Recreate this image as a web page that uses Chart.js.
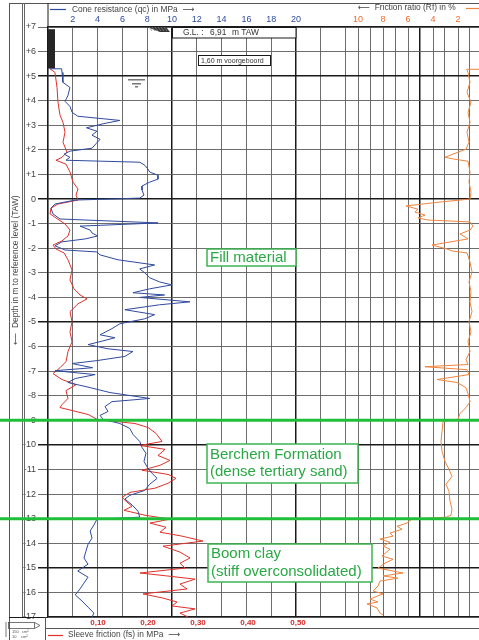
<!DOCTYPE html>
<html>
<head>
<meta charset="utf-8">
<script src="https://cdn.jsdelivr.net/npm/chart.js@4.4.1/dist/chart.umd.min.js"></script>
<style>
html, body { margin: 0; padding: 0; background: #fff; }
#wrap { width: 479px; height: 640px; position: relative; }
</style>
</head>
<body>
<div id="wrap"><canvas id="chart"></canvas></div>
<script>
// [depth in m TAW, cone resistance qc in MPa]
const qcProfile = [
	[5.3,0.15],[5.3,1.1],[5.15,1.13],[4.75,1.2],[4.54,1.77],[4.2,1.6],[3.98,1.37],[3.77,1.77],[3.53,1.94],
	[3.37,2.4],[3.2,5.8],[3.08,4.6],[2.9,3.1],[2.76,3.95],[2.6,3.55],[2.43,4.2],[2.27,3.9],[2.07,3.55],
	[1.95,1.77],[1.83,1.3],[1.7,1.77],[1.58,1.45],[1.5,7.4],[1.38,7.8],[1.22,8.06],[1.1,8.2],[0.97,8.87],
	[0.81,8.87],[0.69,8.2],[0.53,7.58],[0.37,7.58],[0.16,7.74],[0.04,7.4],[-0.04,2.2],[-0.2,0.56],
	[-0.37,0.24],[-0.6,0.4],[-0.81,0.97],[-0.97,8.87],[-1.1,2.58],[-1.26,3.4],[-1.38,3.55],[-1.5,4.0],
	[-1.62,3.0],[-1.74,1.13],[-1.9,0.56],[-2.07,1.37],[-2.15,3.95],[-2.27,4.2],[-2.47,5.65],[-2.68,8.6],
	[-2.84,7.4],[-3.0,7.8],[-3.2,8.2],[-3.37,9.0],[-3.49,10.0],[-3.65,8.2],[-3.81,6.85],[-3.9,9.4],
	[-4.0,7.4],[-4.18,11.45],[-4.3,9.0],[-4.5,6.2],[-4.7,8.6],[-4.87,7.8],[-5.07,5.8],[-5.27,5.16],
	[-5.52,4.2],[-5.64,5.4],[-5.8,4.2],[-5.92,3.23],[-6.09,4.84],[-6.2,6.85],[-6.4,6.2],[-6.57,3.95],
	[-6.69,1.94],[-6.86,3.6],[-6.98,0.56],[-7.14,3.8],[-7.3,2.2],[-7.46,1.6],[-7.67,3.4],[-7.87,5.0],
	[-8.11,8.2],[-8.24,5.16],[-8.44,4.6],[-8.64,4.84],[-8.8,4.2],[-8.96,4.44],[-9.13,5.8],[-9.33,6.6],
	[-9.57,6.85],[-9.86,7.4],[-10.1,7.58],[-10.34,7.9],[-10.67,7.74],[-10.95,8.06],[-11.16,8.4],
	[-11.36,8.8],[-11.6,8.2],[-11.85,7.8],[-12.05,6.6],[-12.2,6.2],[-12.45,6.8],[-12.7,7.26],[-12.94,7.4],
	[-13.02,3.95],[-13.26,3.7],[-13.5,3.4],[-13.79,3.55],[-14.04,3.23],[-14.32,3.06],[-14.6,2.9],
	[-14.85,3.23],[-15.13,2.4],[-15.38,3.23],[-15.62,2.9],[-15.86,2.58],[-16.1,2.2],[-16.35,2.74],
	[-16.6,3.23],[-16.84,3.7],[-17.0,3.55]
];

// [depth in m TAW, sleeve friction fs in MPa]
const fsProfile = [
	[5.3,0.004],[5.15,0.014],[4.54,0.018],[3.94,0.02],[3.41,0.024],[3.12,0.03],[2.72,0.034],[2.31,0.03],
	[1.91,0.038],[1.7,0.028],[1.58,0.016],[1.42,0.036],[1.1,0.044],[0.69,0.05],[0.41,0.06],[0.16,0.056],
	[-0.04,0.06],[-0.2,0.02],[-0.37,0.006],[-0.6,0.004],[-0.77,0.016],[-1.01,0.034],[-1.26,0.044],
	[-1.5,0.04],[-1.7,0.028],[-1.87,0.01],[-2.03,0.016],[-2.19,0.032],[-2.47,0.04],[-2.88,0.048],
	[-3.29,0.044],[-3.65,0.052],[-3.9,0.064],[-4.06,0.078],[-4.26,0.06],[-4.58,0.044],[-4.99,0.048],
	[-5.4,0.044],[-5.8,0.048],[-6.2,0.04],[-6.61,0.036],[-6.86,0.024],[-7.1,0.01],[-7.34,0.028],
	[-7.55,0.056],[-7.79,0.036],[-8.11,0.04],[-8.36,0.028],[-8.48,0.024],[-8.6,0.048],[-8.76,0.08],
	[-8.96,0.098],[-9.13,0.174],[-9.29,0.2],[-9.53,0.216],[-9.86,0.228],[-10.02,0.184],[-10.18,0.234],
	[-10.43,0.22],[-10.63,0.244],[-10.83,0.224],[-11.03,0.188],[-11.2,0.24],[-11.36,0.256],[-11.56,0.24],
	[-11.76,0.214],[-11.93,0.164],[-12.13,0.148],[-12.29,0.156],[-12.5,0.168],[-12.66,0.152],
	[-12.86,0.194],[-13.02,0.244],[-13.18,0.204],[-13.35,0.236],[-13.55,0.224],[-13.71,0.268],
	[-13.91,0.31],[-14.12,0.23],[-14.36,0.264],[-14.6,0.284],[-14.81,0.264],[-15.01,0.274],[-15.21,0.184],
	[-15.33,0.238],[-15.46,0.294],[-15.66,0.264],[-15.86,0.278],[-16.06,0.19],[-16.23,0.23],
	[-16.39,0.258],[-16.55,0.248],[-16.67,0.294],[-16.84,0.264],[-17.0,0.28]
];

// [depth in m TAW, friction ratio Rf in %]
const rfProfile = [
	[5.28,0.3],[5.28,1.3],[5.15,1.2],[4.75,1.04],[4.34,1.28],[3.94,0.96],[3.53,1.2],[3.12,1.04],[2.72,1.28],
	[2.31,1.12],[2.03,1.36],[1.91,2.0],[1.7,3.04],[1.62,2.24],[1.54,1.2],[1.1,1.04],[0.69,1.12],[0.28,0.96],
	[0.0,1.04],[-0.12,3.44],[-0.28,6.16],[-0.41,5.2],[-0.53,5.44],[-0.65,4.64],[-0.77,5.2],[-0.85,4.4],
	[-0.93,1.04],[-1.1,0.8],[-1.26,1.04],[-1.42,1.84],[-1.62,1.2],[-1.87,4.08],[-2.03,2.88],[-2.11,2.48],
	[-2.19,1.28],[-2.56,1.04],[-2.96,0.88],[-3.37,1.12],[-3.77,0.96],[-4.18,1.04],[-4.58,0.88],
	[-4.99,1.12],[-5.4,0.96],[-5.8,1.2],[-6.2,1.04],[-6.53,1.36],[-6.73,1.2],[-6.82,4.64],[-6.94,1.28],
	[-7.14,1.12],[-7.34,3.68],[-7.46,2.08],[-7.67,1.36],[-7.91,1.2],[-8.24,1.04],[-8.48,1.36],[-8.72,1.84],
	[-8.96,2.0],[-9.05,3.2],[-9.45,3.28],[-9.86,3.36],[-10.26,3.28],[-10.67,3.04],[-11.0,2.72],
	[-11.28,2.48],[-11.6,2.96],[-11.89,2.72],[-12.29,2.64],[-12.62,2.48],[-12.86,2.56],[-12.94,2.96],
	[-13.02,5.68],[-13.18,6.08],[-13.31,6.88],[-13.43,6.48],[-13.59,7.44],[-13.71,7.2],[-13.83,8.24],
	[-13.96,7.44],[-14.12,8.0],[-14.24,7.44],[-14.52,8.08],[-14.65,7.2],[-14.81,7.84],[-15.01,8.4],
	[-15.21,6.4],[-15.33,8.0],[-15.42,6.8],[-15.54,8.24],[-15.74,8.4],[-15.94,8.8],[-16.06,8.0],
	[-16.27,9.04],[-16.39,8.4],[-16.47,9.28],[-16.63,8.48],[-16.84,8.24],[-16.92,8.0]
];

const qcGridValues = [0,2,4,6,8,10,12,14,16,18,20,22,24,26,28,30,32,34];
const qcTickLabels = [2,4,6,8,10,12,14,16,18,20];
const rfTickLabels = [2,4,6,8,10];
const fsTickLabels = [0.10,0.20,0.30,0.40,0.50];
const depthTicks = [7,6,5,4,3,2,1,0,-1,-2,-3,-4,-5,-6,-7,-8,-9,-10,-11,-12,-13,-14,-15,-16,-17];

const layerBounds = [-9, -13];
const groundLevel = 6.91;
const predrillBottom = 5.31;
const waterLevel = 4.85;

const blue = '#2f4a9e';
const red = '#e0302a';
const orange = '#f0843c';
const green = '#25b83c';
const thin = '#5c5c5c';
const heavy = '#1a1a1a';
const FONT = '"Liberation Sans", Arial, "DejaVu Sans", sans-serif';

function toPoints(profile) {
	return profile.map(p => ({x: p[1], y: p[0]}));
}

function line(ctx, x1, y1, x2, y2, color, width) {
	ctx.beginPath();
	ctx.strokeStyle = color;
	ctx.lineWidth = width;
	ctx.moveTo(x1, y1);
	ctx.lineTo(x2, y2);
	ctx.stroke();
}

function labelBox(ctx, x, y, w, h, lines, lineYs) {
	ctx.fillStyle = '#fff';
	ctx.fillRect(x, y, w, h);
	ctx.strokeStyle = '#3cb552';
	ctx.lineWidth = 1.5;
	ctx.strokeRect(x, y, w, h);
	ctx.fillStyle = '#2aa845';
	ctx.font = '15px ' + FONT;
	ctx.textAlign = 'left';
	ctx.textBaseline = 'middle';
	lines.forEach((t, i) => ctx.fillText(t, x + 3, lineYs[i]));
}

const overlay = {
	id: 'overlay',
	beforeDatasetsDraw(chart) {
		const ctx = chart.ctx;
		const y = chart.scales.y;
		const a = chart.chartArea;
		ctx.save();
		// ground level box
		ctx.fillStyle = '#fff';
		ctx.fillRect(172, a.top, 124, 11);
		ctx.strokeStyle = heavy;
		ctx.lineWidth = 1;
		ctx.strokeRect(172.5, a.top + 0.5, 123.5, 10.5);
		ctx.fillStyle = '#333';
		ctx.font = '8.4px ' + FONT;
		ctx.textBaseline = 'middle';
		ctx.fillText('G.L. :', 183, a.top + 6);
		ctx.fillText('6,91', 210, a.top + 6);
		ctx.fillText('m TAW', 232, a.top + 6);
		// predrilled box
		ctx.fillStyle = '#fff';
		ctx.fillRect(198, 55, 73, 10);
		ctx.strokeRect(198.5, 55.5, 72, 10);
		ctx.fillStyle = '#333';
		ctx.font = '7px ' + FONT;
		ctx.fillText('1,60 m voorgeboord', 201, 61);
		// predrilled bar
		const yg = y.getPixelForValue(groundLevel);
		const yp = y.getPixelForValue(predrillBottom);
		ctx.fillStyle = '#262626';
		ctx.fillRect(a.left, yg, 7, yp - yg);
		// ground surface hatch
		ctx.fillStyle = '#333';
		ctx.beginPath();
		ctx.moveTo(147, a.top);
		ctx.lineTo(166, a.top);
		ctx.lineTo(170, a.top + 5);
		ctx.lineTo(160, a.top + 5);
		ctx.closePath();
		ctx.fill();
		for (let i = 0; i < 6; i++) {
			line(ctx, 149 + i * 3, a.top, 152 + i * 3, a.top + 4, '#888', 0.8);
		}
		// water table
		const yw = y.getPixelForValue(waterLevel);
		line(ctx, 128, yw, 145, yw, '#333', 1);
		line(ctx, 132, yw + 4, 141, yw + 4, '#333', 1);
		line(ctx, 135, yw + 7, 138, yw + 7, '#333', 1);
		ctx.restore();
	},
	afterDraw(chart) {
		const ctx = chart.ctx;
		const a = chart.chartArea;
		const y = chart.scales.y;
		const rf = chart.scales.xRf;
		ctx.save();
		// frame lines
		line(ctx, 9, 3.5, 479, 3.5, '#555', 1);
		line(ctx, 9.5, 3, 9.5, 640, '#555', 1);
		line(ctx, 22.5, 3, 22.5, a.bottom, '#666', 1);
		line(ctx, 24.5, 3, 24.5, a.bottom, '#666', 1);
		line(ctx, a.left, 3, a.left, a.top, heavy, 1);
		line(ctx, 9, a.bottom + 0.5, a.left, a.bottom + 0.5, heavy, 1);
		line(ctx, 45.5, a.bottom, 45.5, 640, '#555', 1);
		line(ctx, 45, 628.5, 479, 628.5, '#555', 1);
		// cone icon
		ctx.strokeStyle = '#555';
		ctx.lineWidth = 0.8;
		ctx.strokeRect(8.5, 622.5, 26, 6);
		ctx.beginPath();
		ctx.moveTo(34.5, 622.5);
		ctx.lineTo(40, 625.5);
		ctx.lineTo(34.5, 628.5);
		ctx.stroke();
		line(ctx, 6, 622, 6, 637, '#555', 0.8);
		ctx.fillStyle = '#555';
		ctx.font = '4px ' + FONT;
		ctx.fillText('150   cm²', 12, 633);
		ctx.fillText('10    cm²', 12, 638);

		// friction ratio tick labels
		ctx.font = '9px ' + FONT;
		ctx.fillStyle = '#f06a28';
		ctx.textAlign = 'center';
		ctx.textBaseline = 'middle';
		rfTickLabels.forEach(v => ctx.fillText(String(v), rf.getPixelForValue(v), 19.5));

		// axis titles
		ctx.font = '8.4px ' + FONT;
		ctx.textBaseline = 'middle';
		ctx.textAlign = 'left';
		line(ctx, 50, 9.5, 66, 9.5, blue, 1.2);
		ctx.fillStyle = '#444';
		ctx.fillText('Cone resistance (qc) in MPa  \u27F6', 72, 10);
		ctx.fillText('\u27F5  Friction ratio (Rf) in %', 358, 8);
		line(ctx, 466, 8.5, 479, 8.5, orange, 1.2);
		line(ctx, 48, 635.5, 63, 635.5, red, 1.2);
		ctx.fillText('Sleeve friction (fs) in MPa  \u27F6', 68, 635);
		ctx.save();
		ctx.translate(16, 270);
		ctx.rotate(-Math.PI / 2);
		ctx.textAlign = 'center';
		ctx.fillText('\u27F5  Depth in m to reference level (TAW)', 0, 0);
		ctx.restore();

		// layer boundaries
		layerBounds.forEach(d => {
			const py = y.getPixelForValue(d);
			line(ctx, 0, py, 479, py, '#1fbf3a', 3);
		});

		// layer labels
		labelBox(ctx, 207, 249, 89, 17, ['Fill material'], [258]);
		labelBox(ctx, 207, 444, 151, 39, ['Berchem Formation', '(dense tertiary sand)'], [455, 472]);
		labelBox(ctx, 208, 544, 164, 38, ['Boom clay', '(stiff overconsolidated)'], [554, 572]);
		ctx.restore();
	}
};

const chart = new Chart(document.getElementById('chart'), {
	type: 'scatter',
	data: {
		datasets: [
			{label: 'qc', data: toPoints(qcProfile), xAxisID: 'xQc', yAxisID: 'y', borderColor: blue, showLine: true},
			{label: 'fs', data: toPoints(fsProfile), xAxisID: 'xFs', yAxisID: 'y', borderColor: red, showLine: true},
			{label: 'Rf', data: toPoints(rfProfile), xAxisID: 'xRf', yAxisID: 'y', borderColor: orange, showLine: true}
		]
	},
	options: {
		responsive: true,
		maintainAspectRatio: false,
		animation: false,
		layout: {padding: 0},
		elements: {
			point: {radius: 0},
			line: {tension: 0, borderWidth: 1}
		},
		plugins: {
			legend: {display: false},
			tooltip: {enabled: false}
		},
		scales: {
			xQc: {
				type: 'linear', position: 'top', weight: 1,
				min: 0, max: 34.76,
				afterBuildTicks: s => { s.ticks = qcGridValues.map(v => ({value: v})); },
				afterFit: s => { s.height = 27; },
				grid: {
					color: c => c.tick.value % 10 === 0 ? heavy : thin,
					lineWidth: c => c.tick.value % 10 === 0 ? 1.5 : 0.9,
					drawTicks: false
				},
				border: {display: true, color: heavy, width: 1.2},
				ticks: {
					color: blue, padding: 2, autoSkip: false, maxRotation: 0,
					font: {family: FONT, size: 9},
					callback: v => qcTickLabels.includes(v) ? String(v) : ''
				}
			},
			xRf: {
				type: 'linear', position: 'top', weight: 0, reverse: true,
				min: 0.32, max: 34.8,
				afterBuildTicks: s => { s.ticks = rfTickLabels.map(v => ({value: v})); },
				afterFit: s => { s.height = 0; },
				grid: {color: thin, lineWidth: 0.9, drawTicks: false},
				border: {display: false},
				ticks: {display: false}
			},
			xFs: {
				type: 'linear', position: 'bottom',
				min: 0, max: 0.862,
				afterBuildTicks: s => { s.ticks = fsTickLabels.map(v => ({value: v})); },
				afterFit: s => { s.height = 23; },
				grid: {display: false, drawTicks: false},
				border: {display: true, color: heavy, width: 1.2},
				ticks: {
					color: '#d42a2a', padding: 1, autoSkip: false, maxRotation: 0,
					font: {family: FONT, size: 8, weight: 'bold'},
					callback: v => v.toFixed(2).replace('.', ',')
				}
			},
			y: {
				type: 'linear', position: 'left',
				min: -17, max: 7,
				afterBuildTicks: s => { s.ticks = depthTicks.map(v => ({value: v})); },
				afterFit: s => { s.width = 48; },
				grid: {
					color: c => c.tick.value % 5 === 0 ? heavy : thin,
					lineWidth: c => c.tick.value % 5 === 0 ? 1.5 : 0.9,
					tickLength: 10
				},
				border: {display: true, color: heavy, width: 1.2},
				ticks: {
					color: '#444', padding: 2, autoSkip: false,
					font: {family: FONT, size: 9},
					callback: v => v > 0 ? '+' + v : String(v)
				}
			}
		}
	},
	plugins: [overlay]
});
</script>
</body>
</html>
